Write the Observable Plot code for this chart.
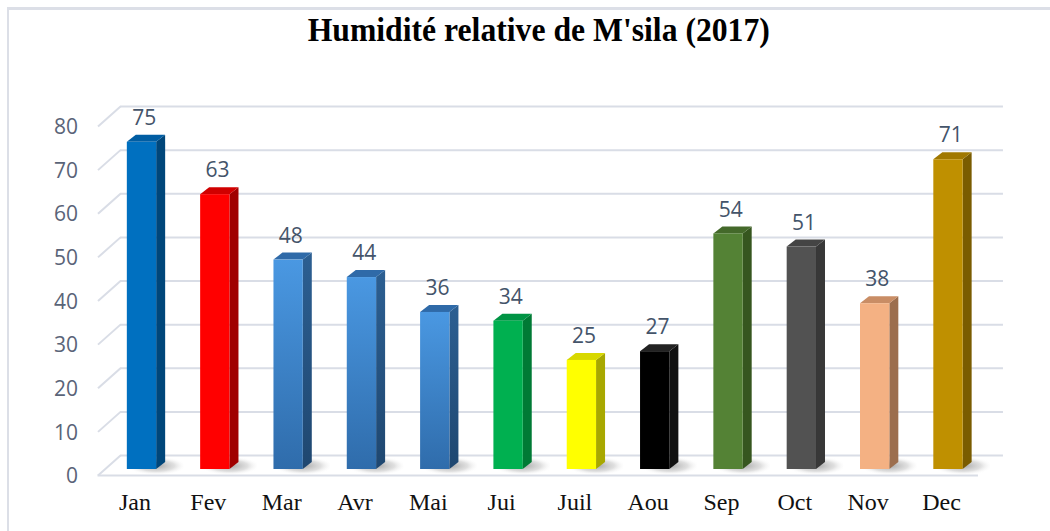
<!DOCTYPE html>
<html>
<head>
<meta charset="utf-8">
<script src="https://cdn.jsdelivr.net/npm/d3@7"></script>
<script src="https://cdn.jsdelivr.net/npm/@observablehq/plot@0.6"></script>
<style>
  html, body { margin: 0; padding: 0; background: #fff; }
  #wrap { position: relative; width: 1050px; height: 531px; overflow: hidden; }
  #frame { position: absolute; left: 7px; top: 7px; width: 1100px; height: 600px;
           border-top: 3px solid #dcdfe7; border-left: 2px solid #dcdfe7; }
  #title { position: absolute; left: 0; width: 1078px; top: 12px; text-align: center;
           font-family: "Liberation Serif", "Times New Roman", serif; font-weight: bold;
           font-size: 33px; color: #000; white-space: nowrap; }
  #title span { display: inline-block; transform: scaleX(0.96); transform-origin: center; }
  #chart { position: absolute; left: 0; top: 0; }
</style>
</head>
<body>
<div id="wrap">
  <div id="frame"></div>
  <div id="title"><span>Humidité relative de M'sila (2017)</span></div>
  <div id="chart"></div>
</div>
<script>
// ---- data ----
const months = ["Jan","Fev","Mar","Avr","Mai","Jui","Juil","Aou","Sep","Oct","Nov","Dec"];
const values = [75, 63, 48, 44, 36, 34, 25, 27, 54, 51, 38, 71];
const frontColors = ["#0070c0","#ff0000","url(#gBlue)","url(#gBlue)","url(#gBlue)","#00b050","#ffff00","#000000","#548235","#525252","#f4b183","#bf9000"];
const sideColors  = ["#00467a","#a00000","url(#gBlueSide)","url(#gBlueSide)","url(#gBlueSide)","#007a35","#a8a800","#111111","#36561f","#383838","#9c6e4e","#7a5c00"];
const topColors   = ["#005da3","#d00000","#2f6aa8","#2f6aa8","#2f6aa8","#009444","#d8d800","#222222","#44692a","#444444","#c98d65","#a07800"];
const yTicks = [0, 10, 20, 30, 40, 50, 60, 70, 80];

// ---- geometry helpers (data units) ----
const pxPerUnitX = 73.32, pxPerUnitY = 4.3625;
const half = 0.2;
const dep = 9 / pxPerUnitX;
const depY = 7 / pxPerUnitY;
const backX0 = -0.6 + 22.5 / pxPerUnitX;
const backX1 = -0.6 + (1003 - 97.5) / pxPerUnitX;
const floorFrontX1 = -0.6 + (978 - 97.5) / pxPerUnitX;
const backDY = 14 / pxPerUnitY;
const frontDY = 6 / pxPerUnitY;

const bars = months.map((m, i) => ({m, i, v: values[i], front: frontColors[i], side: sideColors[i], top: topColors[i]}));

const sidePts = bars.flatMap(b => [
  {i: b.i, x: b.i + half, y1: 0, y2: b.v, c: b.side},
  {i: b.i, x: b.i + half + dep, y1: depY, y2: b.v + depY, c: b.side}
]);
const topPts = bars.flatMap(b => [
  {i: b.i, y: b.v, x1: b.i - half, x2: b.i + half, c: b.top},
  {i: b.i, y: b.v + depY, x1: b.i - half + dep, x2: b.i + half + dep, c: b.top}
]);

const grid = yTicks.map(v => ({v}));

const plot = Plot.plot({
  width: 1050,
  height: 531,
  marginLeft: 97.5,
  marginRight: 1050 - 988.3,
  marginTop: 120,
  marginBottom: 531 - 469,
  x: {domain: [-0.6, 11.55], axis: null},
  y: {domain: [0, 80], axis: null},
  color: {type: "identity"},
  style: {background: "transparent", overflow: "visible"},
  marks: [
    Plot.ruleY(grid, {y: d => d.v + backDY, x1: backX0, x2: backX1, stroke: "#d9dde6", strokeWidth: 2}),
    Plot.link(grid, {x1: -0.6, y1: d => d.v - frontDY, x2: backX0, y2: d => d.v + backDY, stroke: "#d9dde6", strokeWidth: 2}),
    Plot.ruleY([0], {y: -frontDY, x1: -0.6, x2: floorFrontX1, stroke: "#d9dde6", strokeWidth: 2}),
    Plot.rect(bars, {x1: d => d.i - half - 0.05, x2: d => d.i + half + dep + 0.25, y1: -1.2, y2: depY + 1.5, fill: "url(#shadow)"}),
    Plot.areaY(sidePts, {x: "x", y1: "y1", y2: "y2", z: "i", fill: "c", curve: "linear"}),
    Plot.areaX(topPts, {y: "y", x1: "x1", x2: "x2", z: "i", fill: "c", curve: "linear"}),
    Plot.rect(bars, {x1: d => d.i - half, x2: d => d.i + half, y1: 0, y2: "v", fill: "front"}),
    Plot.text(bars, {x: d => d.i + 0.03, y: "v", text: d => String(d.v), dy: -24, fill: "#44546a",
      fontSize: 21, fontFamily: "'Open Sans', 'Noto Sans', sans-serif"}),
    Plot.text(yTicks, {x: -0.6, y: d => d, text: d => String(d), dx: -20, dy: 7, textAnchor: "end",
      fill: "#5a6478", fontSize: 21, fontFamily: "'Open Sans', 'Noto Sans', sans-serif"}),
    Plot.text(bars, {x: "i", y: 0, text: "m", dx: -7, dy: 33, fill: "#111",
      fontSize: 24, fontFamily: "'Liberation Serif', 'Times New Roman', serif"})
  ]
});

const ns = "http://www.w3.org/2000/svg";
const defs = document.createElementNS(ns, "defs");
defs.innerHTML = `
  <linearGradient id="gBlue" x1="0" y1="0" x2="0" y2="1">
    <stop offset="0" stop-color="#4a98e2"/>
    <stop offset="1" stop-color="#2f6cab"/>
  </linearGradient>
  <linearGradient id="gBlueSide" x1="0" y1="0" x2="0" y2="1">
    <stop offset="0" stop-color="#2c5f92"/>
    <stop offset="1" stop-color="#1f4770"/>
  </linearGradient>
  <radialGradient id="shadow" cx="0.55" cy="0.55" r="0.5">
    <stop offset="0" stop-color="#9a9a9a" stop-opacity="0.9"/>
    <stop offset="0.6" stop-color="#c0c0c0" stop-opacity="0.5"/>
    <stop offset="1" stop-color="#ffffff" stop-opacity="0"/>
  </radialGradient>`;
plot.insertBefore(defs, plot.firstChild);
document.getElementById("chart").appendChild(plot);
</script>
</body>
</html>
